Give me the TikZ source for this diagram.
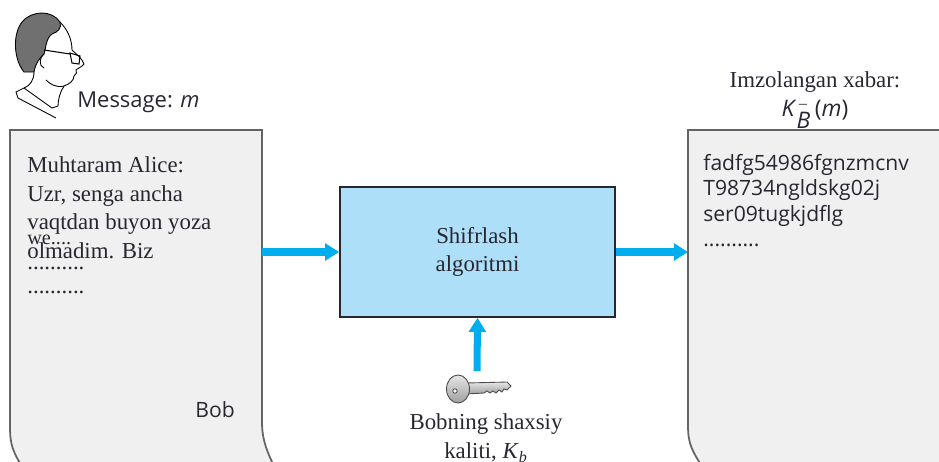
\documentclass[tikz,border=0pt]{standalone}
\usepackage{fontspec}
\setmainfont{Liberation Serif}
\setsansfont{Open Sans}
\usetikzlibrary{arrows.meta}
\definecolor{boxblue}{RGB}{173,223,248}
\definecolor{arrblue}{RGB}{0,174,239}
\definecolor{paper}{RGB}{240,240,240}
\definecolor{edge}{RGB}{100,100,100}
\definecolor{ink}{RGB}{40,38,48}
\definecolor{hair}{RGB}{112,112,112}

\begin{document}
\begin{tikzpicture}[x=0.02cm,y=-0.02cm,
  arr/.style={line width=4pt,arrblue,-{Triangle[length=8pt,width=9.5pt]}},
  page/.style={fill=paper,draw=edge,line width=1pt},
  serif/.style={text=ink,font=\fontsize{13}{16.4}\selectfont,inner sep=0pt},
  sans/.style={text=ink,font=\sffamily\fontsize{12}{14.5}\selectfont,inner sep=0pt}]
\useasboundingbox (0,0) rectangle (939,461);
%\draw[help lines,step=1cm] (0,0) grid (939,461);

% the two pages
\path[page] (24,470) .. controls (12,450) and (10,445) .. (10,425) -- (10,130)
  -- (262,130) -- (262,422) .. controls (262,440) and (267,452) .. (276,470);
\path[page] (704,470) .. controls (692,450) and (688,445) .. (688,425) -- (688,130)
  -- (945,130) -- (945,470) -- cycle;

% Bob
\filldraw[fill=hair,draw=black,line width=0.5pt] (24,72) .. controls (14,60) and (12,35) .. (22,22)
  .. controls (32,10) and (52,10) .. (60,22) .. controls (62,28) and (58,32) .. (52,34)
  .. controls (46,38) and (46,48) .. (44,54) .. controls (40,58) and (36,62) .. (34,72) -- cycle;
\draw[line width=0.5pt] (60,22) .. controls (68,30) and (72,40) .. (72,50) .. controls (76,54) and (82,58) .. (84,64)
  .. controls (82,67) and (78,68) .. (76,70) .. controls (78,72) and (76,74) .. (74,76)
  .. controls (74,80) and (70,84) .. (64,86) .. controls (56,88) and (50,84) .. (46,80);
\draw[line width=0.5pt] (44,54) .. controls (40,56) and (38,66) .. (44,68);
\draw[line width=0.5pt] (34,72) .. controls (34,80) and (30,86) .. (24,88);
\draw[line width=0.5pt] (64,86) .. controls (60,92) and (58,100) .. (58,106);
\draw[line width=0.5pt] (24,88) -- (16,92) -- (18,98) -- (56,118);
\draw[line width=0.5pt] (24,88) -- (52,108) -- (58,106);
\draw[line width=0.6pt] (44,50) -- (70,54) (70,53) -- (80,56) -- (79,64) -- (72,63) -- cycle;
\node (msg) [sans,font=\sffamily\fontsize{12.5}{15}\selectfont,anchor=west] at (77,102) {Message: \textit{m}};

% plain text
\node (plain) [serif,anchor=north west,align=left] at (27,156)
  {Muhtaram Alice:\\Uzr, senga ancha\\vaqtdan buyon yoza\\olmadim. Biz};
\node (we) [serif,font=\fontsize{11.5}{12}\selectfont,anchor=west] at (27,240) {we....};
\node (dots1) [serif,anchor=west] at (27,268) {..........};
\node (dots2) [serif,anchor=west] at (27,292) {..........};
\node (bob) [sans,anchor=west] at (195,410) {Bob};

% signed text
\node (sigtitle) [serif,align=center] at (815,100)
  {Imzolangan xabar:\\{\sffamily\textit{K}$_{\textit{B}}^{\,\textendash}$\,(\textit{m})}};
\node (cipher) [sans,anchor=north west,align=left] at (703,154)
  {fadfg54986fgnzmcnv\\T98734ngldskg02j\\ser09tugkjdflg\\..........};

% algorithm
\node (enc) [draw=ink,fill=boxblue,line width=1pt,minimum width=5.5cm,minimum height=2.6cm,
  serif,align=center] at (477.5,252) {Shifrlash\\algoritmi};

% key
\draw[top color=gray!20,bottom color=gray!75,draw=black!70,line width=0.5pt]
  (466,383) -- (507,382) -- (511,386) -- (507,390) -- (504,389) -- (502,392) -- (499,390)
  -- (496,393) -- (493,391) -- (490,393) -- (487,391) -- (484,393) -- (466,394) -- cycle;
\draw[top color=gray!20,bottom color=gray!75,draw=black!70,line width=0.5pt] (458,389) ellipse (11.5 and 14);
\draw[fill=white,draw=black!70,line width=0.5pt] (455,391) circle (2.2);
\coordinate (key) at (477,371);
\node (keytxt) [serif,align=center] at (486,438) {Bobning shaxsiy\\kaliti, \textit{K}\textsubscript{\textit{b}}};

% arrows
\coordinate (msgR) at (262,252);
\coordinate (sigL) at (688,252);
\draw[arr] (msgR) -- (enc.west);
\draw[arr] (enc.east) -- (sigL);
\draw[arr] (key) -- (enc.south);
\end{tikzpicture}
\end{document}
